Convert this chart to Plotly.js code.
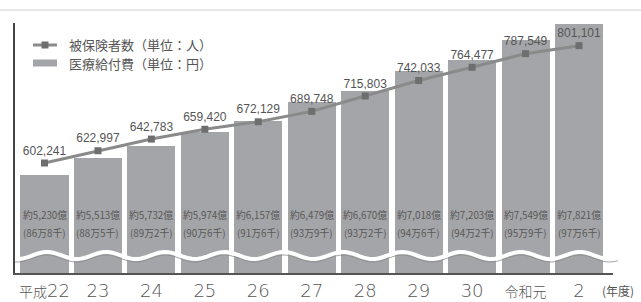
<!DOCTYPE html>
<html><head><meta charset="utf-8">
<script src="https://cdn.plot.ly/plotly-3.0.1.min.js"></script>
<style>html,body{margin:0;padding:0;background:#fff;}#chart{width:641px;height:302px;}</style>
</head><body><div id="chart"></div>
<script>
// ---- data ----
var years = ["平成22", "23", "24", "25", "26", "27", "28", "29", "30", "令和元", "2"];
var insured = [602241, 622997, 642783, 659420, 672129, 689748, 715803, 742033, 764477, 787549, 801101];
var insuredLabels = ["602,241", "622,997", "642,783", "659,420", "672,129", "689,748", "715,803", "742,033", "764,477", "787,549", "801,101"];
var benefitOku = [5230, 5513, 5732, 5974, 6157, 6479, 6670, 7018, 7203, 7549, 7821];
var benefitLabels = ["約5,230億", "約5,513億", "約5,732億", "約5,974億", "約6,157億", "約6,479億", "約6,670億", "約7,018億", "約7,203億", "約7,549億", "約7,821億"];
var perCapitaLabels = ["(86万8千)", "(88万5千)", "(89万2千)", "(90万6千)", "(91万6千)", "(93万9千)", "(93万2千)", "(94万6千)", "(94万2千)", "(95万9千)", "(97万6千)"];
var legendNames = ["被保険者数（単位：人）", "医療給付費（単位：円）"];
var unitLabel = "(年度)";

// ---- layout helpers (pixel -> paper) ----
var W = 641, H = 302, ML = 15, MR = 28, MT = 23, MB = 29;
var PW = W - ML - MR, PH = H - MT - MB;
function px(x) { return (x - ML) / PW; }
function py(y) { return (H - MB - y) / PH; }

var xs = years.map(function (_, i) { return i; });
var tickText = years.map(function (t) {
  return t.replace(/([^0-9]+)/g, '<span style="font-size:14px">$1</span>');
});

var barColor = '#a4a5a8', lineColor = '#8a8a8a', markColor = '#6e6e6e', txt = '#555';

var traces = [
  {
    type: 'bar', x: xs, y: benefitOku, width: 0.9,
    marker: { color: barColor, line: { width: 0 } },
    hoverinfo: 'skip', showlegend: false
  },
  {
    type: 'scatter', mode: 'lines+markers+text', x: xs, y: insured, yaxis: 'y2',
    text: insuredLabels, textposition: 'top center',
    textfont: { family: 'Liberation Sans, Arial, sans-serif', size: 12, color: txt },
    line: { color: lineColor, width: 3 },
    marker: { symbol: 'square', size: 7, color: markColor },
    cliponaxis: false, hoverinfo: 'skip', showlegend: false
  }
];

// wavy break line (decoration)
function wavePath(offset) {
  var d = '';
  for (var x = 15; x <= 618; x += 3) {
    var y = 255.5 + offset - 3.5 * Math.cos(2 * Math.PI * (x - 47) / 59.2);
    d += (x === 15 ? 'M' : 'L') + px(x).toFixed(5) + ',' + py(y).toFixed(5);
  }
  return d;
}

var shapes = [
  { type: 'path', xref: 'paper', yref: 'paper', path: wavePath(3), line: { color: '#8c8c8c', width: 0.8 }, layer: 'above' },
  { type: 'path', xref: 'paper', yref: 'paper', path: wavePath(0), line: { color: '#ffffff', width: 4 }, layer: 'above' },
  // top edge line
  { type: 'line', xref: 'paper', yref: 'paper', x0: px(0), x1: px(641), y0: py(10), y1: py(10), line: { color: '#cfcfcf', width: 1 } },
  // legend symbols
  { type: 'line', xref: 'paper', yref: 'paper', x0: px(33), x1: px(57), y0: py(45), y1: py(45), line: { color: lineColor, width: 3 } },
  { type: 'rect', xref: 'paper', yref: 'paper', x0: px(41.5), x1: px(48.5), y0: py(41.5), y1: py(48.5), fillcolor: markColor, line: { width: 0 } },
  { type: 'rect', xref: 'paper', yref: 'paper', x0: px(33), x1: px(57), y0: py(59.5), y1: py(66.5), fillcolor: barColor, line: { width: 0 } }
];

var annotations = [];
legendNames.forEach(function (n, i) {
  annotations.push({
    xref: 'paper', yref: 'paper', x: px(68), y: py(i === 0 ? 44.5 : 63.5),
    xanchor: 'left', yanchor: 'middle', showarrow: false, text: n, borderpad: 0,
    font: { family: 'Noto Sans CJK JP', size: 13, color: txt }
  });
});
xs.forEach(function (x, i) {
  annotations.push({
    xref: 'x', yref: 'paper', x: x, y: py(215), xanchor: 'center', yanchor: 'middle',
    showarrow: false, text: benefitLabels[i], borderpad: 0,
    font: { family: 'Noto Sans CJK JP', size: 9.8, color: '#585858' }
  });
  annotations.push({
    xref: 'x', yref: 'paper', x: x, y: py(233), xanchor: 'center', yanchor: 'middle',
    showarrow: false, text: perCapitaLabels[i], borderpad: 0,
    font: { family: 'Noto Sans CJK JP', size: 9.8, color: '#585858' }
  });
});
annotations.push({
  xref: 'paper', yref: 'paper', x: px(618), y: py(290), xanchor: 'center', yanchor: 'middle',
  showarrow: false, text: unitLabel,
  font: { family: 'Noto Sans CJK JP', size: 12, color: txt }
});

var layout = {
  width: W, height: H,
  margin: { l: ML, r: MR, t: MT, b: MB, pad: 0 },
  paper_bgcolor: '#fff', plot_bgcolor: '#fff',
  showlegend: false,
  bargap: 0,
  xaxis: {
    range: [-0.552, 10.636], tickvals: xs, ticktext: tickText,
    showgrid: false, zeroline: false, ticks: '',
    showline: true, linecolor: '#555', linewidth: 2,
    tickfont: { family: 'DejaVu Sans, Noto Sans CJK JP', size: 18, color: '#555', weight: 300 },
    fixedrange: true
  },
  yaxis: {
    range: [3548, 7838], showgrid: false, zeroline: false, showticklabels: false, ticks: '',
    showline: true, linecolor: '#444', linewidth: 2, fixedrange: true
  },
  yaxis2: {
    overlaying: 'y', side: 'right', range: [415800, 839529],
    showgrid: false, zeroline: false, showticklabels: false, ticks: '', showline: false
  },
  shapes: shapes,
  annotations: annotations
};

Plotly.newPlot('chart', traces, layout, { displayModeBar: false, staticPlot: true });
</script>
</body></html>
